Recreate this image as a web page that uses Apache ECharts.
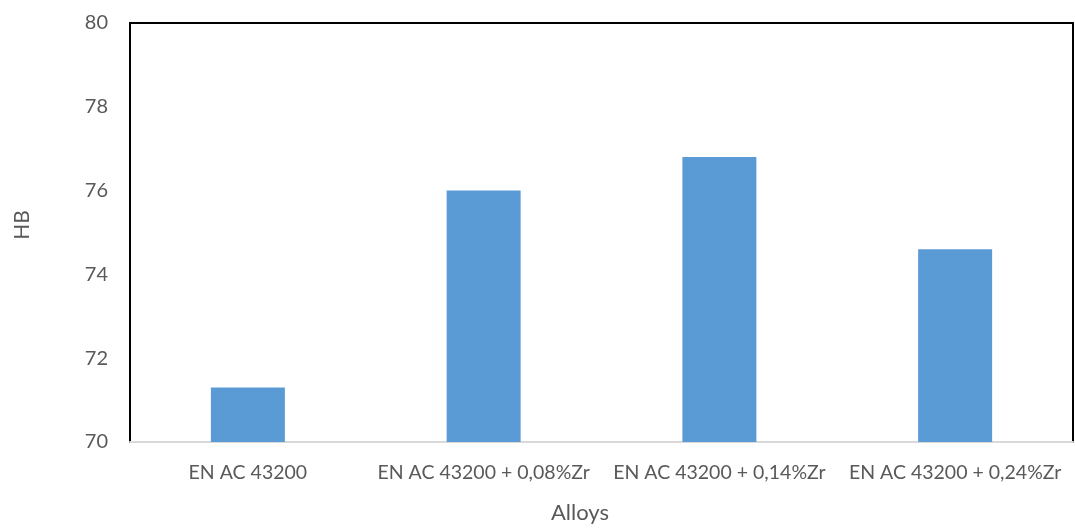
<!DOCTYPE html>
<html>
<head>
<meta charset="utf-8">
<script src="https://cdn.jsdelivr.net/npm/echarts@6/dist/echarts.min.js"></script>
<style>html,body{margin:0;padding:0;background:#fff}#c{width:1075px;height:530px}</style>
</head>
<body>
<div id="c"></div>
<script>
const categories = ["EN AC 43200", "EN AC 43200 + 0,08%Zr", "EN AC 43200 + 0,14%Zr", "EN AC 43200 + 0,24%Zr"];
const hbValues = [71.3, 76.0, 76.8, 74.6];
const yTicks = [70, 72, 74, 76, 78, 80];
const xTitle = "Alloys";
const yTitle = "HB";

const font = "Lato, 'Open Sans', sans-serif";
const chart = echarts.init(document.getElementById('c'), null, {renderer: 'canvas'});
chart.setOption({
  animation: false,
  grid: {left: 130, right: 2, top: 23, bottom: 88, show: true, borderColor: '#000', borderWidth: 2, backgroundColor: '#fff'},
  xAxis: {
    type: 'category', data: categories,
    axisLine: {show: true, lineStyle: {color: '#d9d9d9', width: 2}},
    axisTick: {show: false},
    axisLabel: {fontFamily: font, fontSize: 19.5, color: '#595959', margin: 21, interval: 0}
  },
  yAxis: {
    type: 'value', min: yTicks[0], max: yTicks[yTicks.length - 1], interval: 2,
    axisLine: {show: false}, axisTick: {show: false}, splitLine: {show: false},
    axisLabel: {fontFamily: font, fontSize: 20, color: '#595959', margin: 22}
  },
  graphic: [
    {type: 'text', left: 585 - 34, top: 502, style: {text: xTitle, font: '22px ' + font, fill: '#595959'}},
    {type: 'text', x: 22, y: 225, rotation: Math.PI / 2, style: {text: yTitle, font: '21px ' + font, fill: '#595959', align: 'center', verticalAlign: 'middle'}}
  ],
  series: [{
    type: 'bar', data: hbValues, barWidth: 74,
    itemStyle: {color: '#5b9bd5'}
  }]
});
</script>
</body>
</html>
